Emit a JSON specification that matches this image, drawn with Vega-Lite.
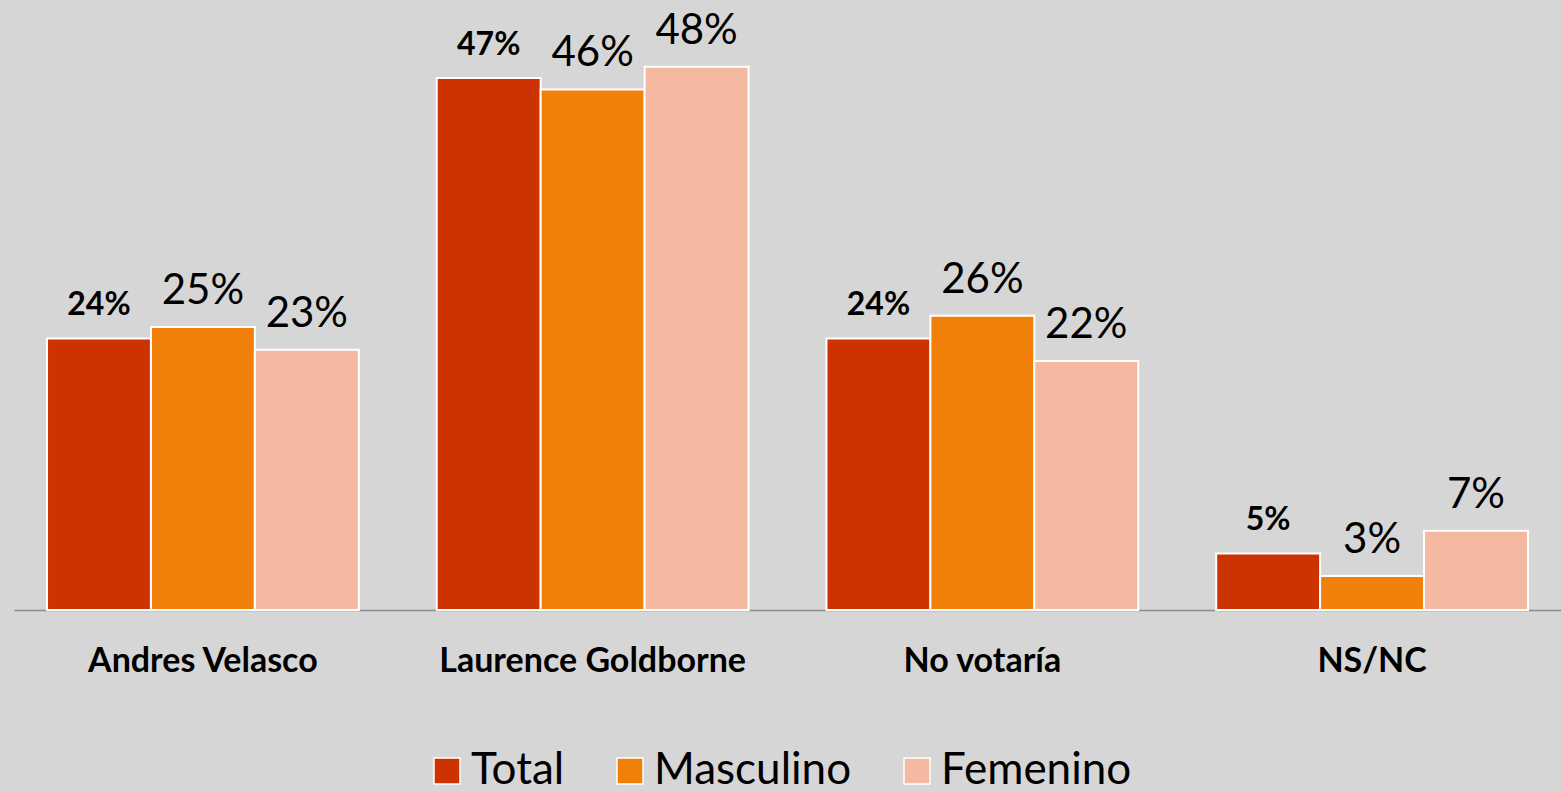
{
  "$schema": "https://vega.github.io/schema/vega-lite/v6.json",
  "width": 1547,
  "height": 610,
  "autosize": {"type": "none"},
  "padding": {"left": 14, "top": 0, "right": 0, "bottom": 182},
  "background": "#d6d6d6",
  "config": {"view": {"stroke": null}, "font": "Lato"},
  "data": {
    "values": [
      {"candidato": "Andres Velasco", "serie": "Total", "valor": 0.24},
      {"candidato": "Andres Velasco", "serie": "Masculino", "valor": 0.25},
      {"candidato": "Andres Velasco", "serie": "Femenino", "valor": 0.23},
      {"candidato": "Laurence Goldborne", "serie": "Total", "valor": 0.47},
      {"candidato": "Laurence Goldborne", "serie": "Masculino", "valor": 0.46},
      {"candidato": "Laurence Goldborne", "serie": "Femenino", "valor": 0.48},
      {"candidato": "No votaría", "serie": "Total", "valor": 0.24},
      {"candidato": "No votaría", "serie": "Masculino", "valor": 0.26},
      {"candidato": "No votaría", "serie": "Femenino", "valor": 0.22},
      {"candidato": "NS/NC", "serie": "Total", "valor": 0.05},
      {"candidato": "NS/NC", "serie": "Masculino", "valor": 0.03},
      {"candidato": "NS/NC", "serie": "Femenino", "valor": 0.07}
    ]
  },
  "encoding": {
    "x": {
      "field": "candidato",
      "type": "nominal",
      "sort": ["Andres Velasco", "Laurence Goldborne", "No votaría", "NS/NC"],
      "scale": {"paddingInner": 0.2, "paddingOuter": 0.0847},
      "axis": {
        "title": null,
        "labelAngle": 0,
        "labelFontSize": 34,
        "labelFontWeight": "bold",
        "labelColor": "black",
        "labelPadding": 34,
        "labelLimit": 0,
        "ticks": false,
        "tickSize": 0,
        "domainColor": "#8c8c8c",
        "domainWidth": 1.5,
        "grid": false
      }
    },
    "xOffset": {"field": "serie", "type": "nominal", "sort": ["Total", "Masculino", "Femenino"]},
    "y": {
      "field": "valor",
      "type": "quantitative",
      "scale": {"domain": [0, 0.539], "nice": false},
      "axis": null
    }
  },
  "layer": [
    {
      "mark": {"type": "bar", "stroke": "white", "strokeWidth": 2},
      "encoding": {
        "color": {
          "field": "serie",
          "type": "nominal",
          "sort": ["Total", "Masculino", "Femenino"],
          "scale": {"domain": ["Total", "Masculino", "Femenino"], "range": ["#cc3300", "#f0800a", "#f4b9a0"]},
          "legend": {
            "title": null,
            "orient": "none",
            "direction": "horizontal",
            "legendX": 411,
            "legendY": 749,
            "symbolType": "square",
            "symbolSize": 676,
            "symbolStrokeColor": "white",
            "symbolStrokeWidth": 1.5,
            "symbolOpacity": 1,
            "labelFontSize": 44,
            "labelLimit": 0,
            "labelColor": "black",
            "labelOffset": 2,
            "columnPadding": 43,
            "padding": 0
          }
        }
      }
    },
    {
      "transform": [{"filter": "datum.serie === 'Total'"}],
      "mark": {"type": "text", "fontWeight": "bold", "fontSize": 32, "dy": -23, "baseline": "alphabetic", "color": "black"},
      "encoding": {"text": {"field": "valor", "type": "quantitative", "format": ".0%"}}
    },
    {
      "transform": [{"filter": "datum.serie !== 'Total'"}],
      "mark": {"type": "text", "fontSize": 42, "dy": -23, "baseline": "alphabetic", "color": "black"},
      "encoding": {"text": {"field": "valor", "type": "quantitative", "format": ".0%"}}
    }
  ]
}
